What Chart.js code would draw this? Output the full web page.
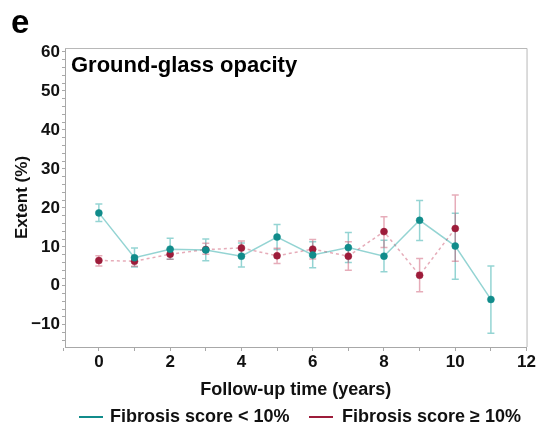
<!DOCTYPE html>
<html>
<head>
<meta charset="utf-8">
<script src="https://cdn.jsdelivr.net/npm/chart.js@4/dist/chart.umd.min.js"></script>
<style>
html,body{margin:0;padding:0;background:#fff;}
#wrap{width:537px;height:425px;position:relative;}
</style>
</head>
<body>
<div id="wrap"><canvas id="c" width="537" height="425"></canvas></div>
<script>
// ---- data ----
const lowYears = [0,1,2,3,4,5,6,7,8,9,10,11];
const lowMean  = [18.7, 7.2, 9.4, 9.2, 7.6, 12.5, 7.9, 9.8, 7.6, 16.8, 10.2, -3.5];
const lowLo    = [16.5, 4.8, 6.8, 6.4, 4.8, 9.3, 4.6, 6.0, 3.6, 11.6, 1.7, -12.2];
const lowHi    = [21.0, 9.7, 12.2, 12.0, 11.0, 15.7, 11.3, 13.7, 11.7, 21.9, 18.6, 5.1];

const highYears = [0,1,2,3,4,5,6,7,8,9,10];
const highMean  = [6.5, 6.3, 8.1, 9.3, 9.7, 7.7, 9.4, 7.6, 13.9, 2.7, 14.7];
const highLo    = [5.1, 5.0, 6.8, 8.1, 8.0, 5.7, 6.9, 4.0, 9.8, -1.5, 6.3];
const highHi    = [7.7, 7.6, 9.5, 10.9, 11.5, 9.6, 11.9, 11.3, 17.7, 7.0, 23.3];

const seriesLabels = ['Fibrosis score < 10%', 'Fibrosis score \u2265 10%'];
const xTickValues = [-1,0,1,2,3,4,5,6,7,8,9,10,11,12];
const yTickValues = [-14,-12,-10,-8,-6,-4,-2,0,2,4,6,8,10,12,14,16,18,20,22,24,26,28,30,32,34,36,38,40,42,44,46,48,50,52,54,56,58,60];

const panelLetter = 'e';
const plotTitle = 'Ground-glass opacity';
const xTitle = 'Follow-up time (years)';
const yTitle = 'Extent (%)';

const TEAL = '#118c8b', TEAL_L = 'rgba(17,160,158,0.45)';
const RED = '#9d1c3a', RED_L = 'rgba(200,70,100,0.45)';
const FONT = '"Liberation Sans", Arial, sans-serif';

const toPts = (xs, ys) => xs.map((x,i)=>({x:x, y:ys[i]}));

const errPlugin = {
  id:'errbars',
  beforeDatasetsDraw(chart){
    const ctx = chart.ctx, xs = chart.scales.x, ys = chart.scales.y;
    const sets = [[lowYears, lowLo, lowHi, TEAL_L],[highYears, highLo, highHi, RED_L]];
    ctx.save();
    ctx.lineWidth = 1.5;
    sets.forEach(([xv, lo, hi, col])=>{
      ctx.strokeStyle = col;
      xv.forEach((x,i)=>{
        const px = xs.getPixelForValue(x);
        const p1 = ys.getPixelForValue(lo[i]), p2 = ys.getPixelForValue(hi[i]);
        ctx.beginPath();
        ctx.moveTo(px,p1); ctx.lineTo(px,p2);
        ctx.moveTo(px-3.5,p1); ctx.lineTo(px+3.5,p1);
        ctx.moveTo(px-3.5,p2); ctx.lineTo(px+3.5,p2);
        ctx.stroke();
      });
    });
    ctx.restore();
  },
  afterDraw(chart){
    const ctx = chart.ctx, a = chart.chartArea;
    ctx.save();
    // frame top/right
    ctx.strokeStyle = '#b8b8b8'; ctx.lineWidth = 1;
    ctx.beginPath();
    ctx.moveTo(a.left, a.top+0.5); ctx.lineTo(a.right+0.5, a.top+0.5); ctx.lineTo(a.right+0.5, a.bottom);
    ctx.stroke();
    // panel letter & plot title
    ctx.fillStyle = '#000';
    ctx.textBaseline = 'middle'; ctx.textAlign = 'left';
    ctx.font = 'bold 33px ' + FONT;
    ctx.fillText(panelLetter, 11, 24);
    ctx.font = 'bold 22px ' + FONT;
    ctx.fillText(plotTitle, 71, 66);
    // legend
    ctx.font = 'bold 18px ' + FONT;
    const ly = 417;
    const items = [[79, 110, TEAL, seriesLabels[0]], [309, 342, RED, seriesLabels[1]]];
    items.forEach(([lx, tx, col, txt])=>{
      ctx.strokeStyle = col; ctx.lineWidth = 2;
      ctx.beginPath(); ctx.moveTo(lx, ly); ctx.lineTo(lx+24, ly); ctx.stroke();
      ctx.fillStyle = '#111';
      ctx.fillText(txt, tx, ly);
    });
    ctx.restore();
  }
};

const tickFont = {family: FONT, size: 17, weight: 'bold'};
const xTitleFont = {family: FONT, size: 18, weight: 'bold'};

new Chart(document.getElementById('c'), {
  type: 'line',
  data: {
    datasets: [
      {label: seriesLabels[0], data: toPts(lowYears, lowMean), borderColor: TEAL_L, borderWidth: 1.5,
       pointBackgroundColor: TEAL, pointBorderColor: TEAL, pointRadius: 3.5, pointBorderWidth: 0.5, tension: 0},
      {label: seriesLabels[1], data: toPts(highYears, highMean), borderColor: RED_L, borderWidth: 1.5,
       borderDash: [3,3], pointBackgroundColor: RED, pointBorderColor: RED, pointRadius: 3.5, pointBorderWidth: 0.5, tension: 0}
    ]
  },
  options: {
    responsive: false, animation: false, devicePixelRatio: 1,
    layout: {padding: {top: 48, right: 9, left: 0, bottom: 0}},
    plugins: {legend: {display: false}, tooltip: {enabled: false}},
    scales: {
      x: {
        type: 'linear', min: -0.95, max: 12,
        afterBuildTicks: s => { s.ticks = xTickValues.map(v=>({value:v})); },
        afterFit: s => { s.height = 78; },
        border: {display: true, color: '#a8a8a8'},
        grid: {drawOnChartArea: false, drawTicks: true, tickLength: 4, tickColor: '#a8a8a8'},
        ticks: {font: tickFont, color: '#111', padding: 1, autoSkip: false, maxRotation: 0,
          callback: v => (v >= 0 && v % 2 === 0) ? String(v) : ''},
        title: {display: true, text: xTitle, font: xTitleFont, color: '#111', padding: {top: 0, bottom: 24}}
      },
      y: {
        min: -15.7, max: 61,
        afterBuildTicks: s => { s.ticks = yTickValues.map(v=>({value:v})); },
        afterFit: s => { s.width = 65; },
        border: {display: true, color: '#a8a8a8'},
        grid: {drawOnChartArea: false, drawTicks: true, tickLength: 3, tickColor: '#a8a8a8'},
        ticks: {font: tickFont, color: '#111', padding: 2, autoSkip: false,
          callback: v => (v % 10 === 0) ? (v < 0 ? '\u2212' + Math.abs(v) : String(v)) : ''},
        title: {display: true, text: yTitle, font: tickFont, color: '#111', padding: {top: 12, bottom: 0}}
      }
    }
  },
  plugins: [errPlugin]
});
</script>
</body>
</html>
